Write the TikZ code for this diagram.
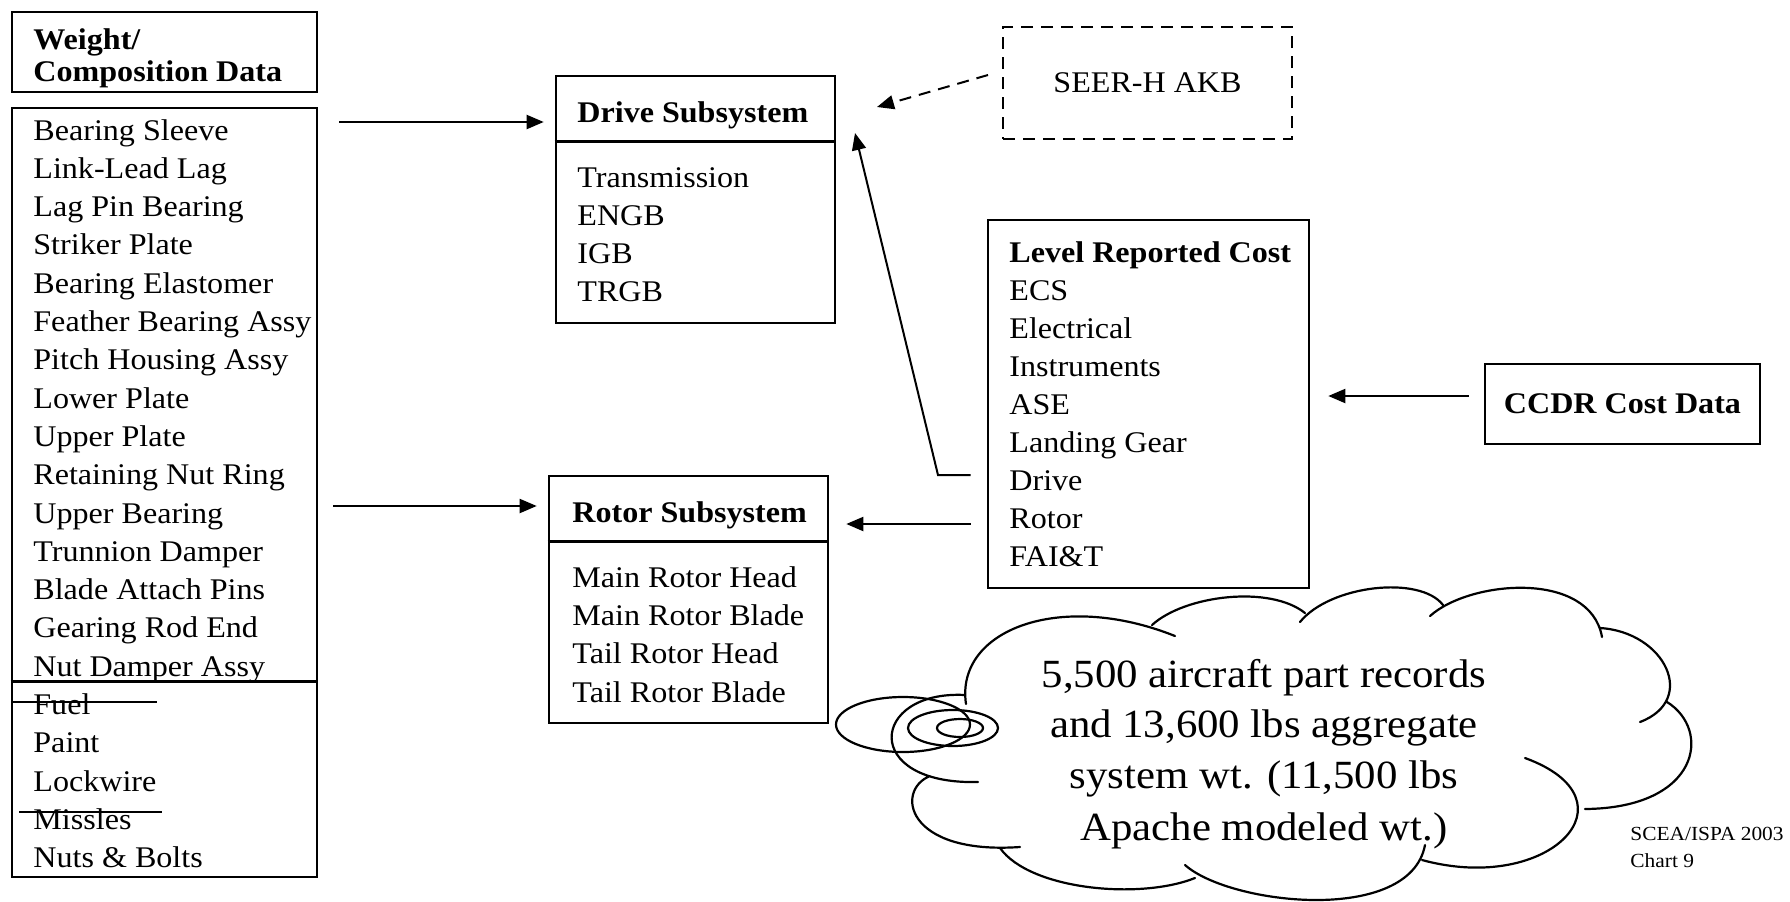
\documentclass[tikz,border=0pt]{standalone}
\usepackage{fontspec}
\setmainfont{Liberation Serif}[FakeStretch=1.07]
\usetikzlibrary{arrows.meta}

\tikzset{
  box/.style={draw, rectangle, line width=1.3pt, inner sep=0pt},
  divider/.style={line width=1.3pt},
  txt/.style={anchor=base west, inner sep=0pt, font=\fontsize{15}{18}\selectfont},
  hdr/.style={anchor=base west, inner sep=0pt, font=\fontsize{15}{18}\selectfont\bfseries},
  arr/.style={line width=1pt, -{Triangle[length=8.5pt,width=7pt]}},
  dashedline/.style={dash pattern=on 6pt off 4pt},
  strike/.style={line width=1pt},
  cloudline/.style={line width=1.1pt, line cap=round},
  bubble/.style={anchor=base, inner sep=0pt, font=\fontsize{20}{25}\selectfont},
  note/.style={anchor=base west, inner sep=0pt, font=\fontsize{10}{12}\selectfont},
}

\begin{document}
\begin{tikzpicture}[x=0.5pt, y=-0.5pt]
  \useasboundingbox (0,0) rectangle (1790,901);
  \fill[white] (0,0) rectangle (1790,901);

  % ---------- weight / composition data ----------
  \node[box, minimum width=152.5pt, minimum height=40pt] (wtitle) at (164.5,52) {};
  \node[hdr] (wt1) at (33,49) {Weight/};
  \node[hdr] (wt2) at (33,81) {Composition Data};

  \node[box, minimum width=152.5pt, minimum height=384.5pt] (wlist) at (164.5,492.5) {};
  \draw[divider] ([yshift=-287.5pt]wlist.north west) -- ([yshift=-287.5pt]wlist.north east);
  \foreach \t [count=\i] in {Bearing Sleeve,Link-Lead Lag,Lag Pin Bearing,Striker Plate,%
      Bearing Elastomer,Feather Bearing Assy,Pitch Housing Assy,Lower Plate,Upper Plate,%
      Retaining Nut Ring,Upper Bearing,Trunnion Damper,Blade Attach Pins,Gearing Rod End,%
      Nut Damper Assy,Fuel,Paint,Lockwire,Missles,Nuts \& Bolts}
    \node[txt] (item\i) at (33,{140+38.3*(\i-1)}) {\t};
  % struck-out entries
  \draw[strike] (13,702) -- (157,702);
  \draw[strike] (19,812) -- (162,812);

  % ---------- drive subsystem ----------
  \node[box, minimum width=139.5pt, minimum height=123.5pt] (drive) at (695.5,199.5) {};
  \draw[divider] ([yshift=-33.5pt]drive.north west) -- ([yshift=-33.5pt]drive.north east);
  \node[hdr] (drvh) at (577,122) {Drive Subsystem};
  \node[txt] (drv1) at (577,187) {Transmission};
  \node[txt] (drv2) at (577,225) {ENGB};
  \node[txt] (drv3) at (577,263) {IGB};
  \node[txt] (drv4) at (577,301) {TRGB};

  % ---------- rotor subsystem ----------
  \node[box, minimum width=139.5pt, minimum height=123.5pt] (rotor) at (688.5,599.5) {};
  \draw[divider] ([yshift=-33.5pt]rotor.north west) -- ([yshift=-33.5pt]rotor.north east);
  \node[hdr] (rotH) at (572,522) {Rotor Subsystem};
  \node[txt] (rot1) at (572,587) {Main Rotor Head};
  \node[txt] (rot2) at (572,625) {Main Rotor Blade};
  \node[txt] (rot3) at (572,663) {Tail Rotor Head};
  \node[txt] (rot4) at (572,702) {Tail Rotor Blade};

  % ---------- level reported cost ----------
  \node[box, minimum width=160.5pt, minimum height=184pt] (level) at (1148.5,404) {};
  \node[hdr] (lvh) at (1009,262) {Level Reported Cost};
  \foreach \t [count=\i] in {ECS,Electrical,Instruments,ASE,Landing Gear,Drive,Rotor,FAI\&T}
    \node[txt] (lv\i) at (1009,{300+38.1*(\i-1)}) {\t};

  % ---------- data sources ----------
  \node[box, minimum width=137.5pt, minimum height=40pt,
        font=\fontsize{15}{18}\selectfont\bfseries] (ccdr) at (1622.5,404) {CCDR Cost Data};
  \node[box, dashedline, line width=1pt, minimum width=144.5pt, minimum height=56pt,
        font=\fontsize{15}{18}\selectfont] (seer) at (1147.5,83) {SEER-H AKB};

  % ---------- connectors ----------
  \coordinate (y1) at (0,122);
  \coordinate (y2) at (0,506);
  \coordinate (y3) at (0,396);
  \coordinate (y4) at (0,524);
  \draw[arr, shorten <=10.5pt, shorten >=5.5pt] (wlist.east |- y1) -- (drive.west |- y1);
  \draw[arr, shorten <=7.5pt, shorten >=5.5pt] (wlist.east |- y2) -- (rotor.west |- y2);
  \draw[arr, shorten <=7.5pt, shorten >=9pt] (ccdr.west |- y3) -- (level.east |- y3);
  \draw[arr, shorten <=8pt, shorten >=8.5pt] (level.west |- y4) -- (rotor.east |- y4);

  \coordinate (bend) at (938,475);
  \coordinate (drvtip) at (855,133);
  \draw[arr, shorten <=8pt] (level.west |- bend) -- (bend) -- (drvtip);

  \coordinate (seerout) at (988,75);
  \coordinate (drvdash) at (877,107);
  \draw[arr, dashedline] (seerout) -- (drvdash);

  % ---------- thought cloud ----------
  \begin{scope}
    \clip (0,0) rectangle (1790,901);
    \draw[cloudline]
      (966,704)  .. controls (955,630)  and (1060,590) .. (1175,636)
      (1152,625) .. controls (1185,595) and (1270,585) .. (1305,613)
      (1300,622) .. controls (1330,585) and (1420,575) .. (1443,605)
      (1430,616) .. controls (1470,580) and (1590,570) .. (1602,637)
      (1600,628) .. controls (1665,632) and (1698,700) .. (1640,722)
      (1667,702) .. controls (1712,730) and (1700,808) .. (1585,809)
      (1525,758) .. controls (1640,800) and (1550,895) .. (1422,860)
      (1425,845) .. controls (1410,925) and (1230,905) .. (1185,865)
      (1195,878) .. controls (1140,900) and (1030,890) .. (1000,848)
      (1020,847) .. controls (905,855)  and (895,790)  .. (930,776)
      (978,782)  .. controls (860,785)  and (870,690)  .. (965,695);
    % tail bubbles
    \draw[cloudline] (903,724.5) ellipse [x radius=67, y radius=27.5];
    \draw[cloudline] (953,728) ellipse [x radius=45, y radius=18];
    \draw[cloudline] (960,728) ellipse [x radius=23, y radius=9];
  \end{scope}

  \node[bubble] (cl1) at (1264,687) {5,500 aircraft part records};
  \node[bubble] (cl2) at (1264,737) {and 13,600 lbs aggregate};
  \node[bubble] (cl3) at (1264,788) {system wt. (11,500 lbs};
  \node[bubble] (cl4) at (1264,840) {Apache modeled wt.)};

  % ---------- footer ----------
  \node[note] (ft1) at (1630,840) {SCEA/ISPA 2003};
  \node[note] (ft2) at (1630,867) {Chart 9};
\end{tikzpicture}
\end{document}
